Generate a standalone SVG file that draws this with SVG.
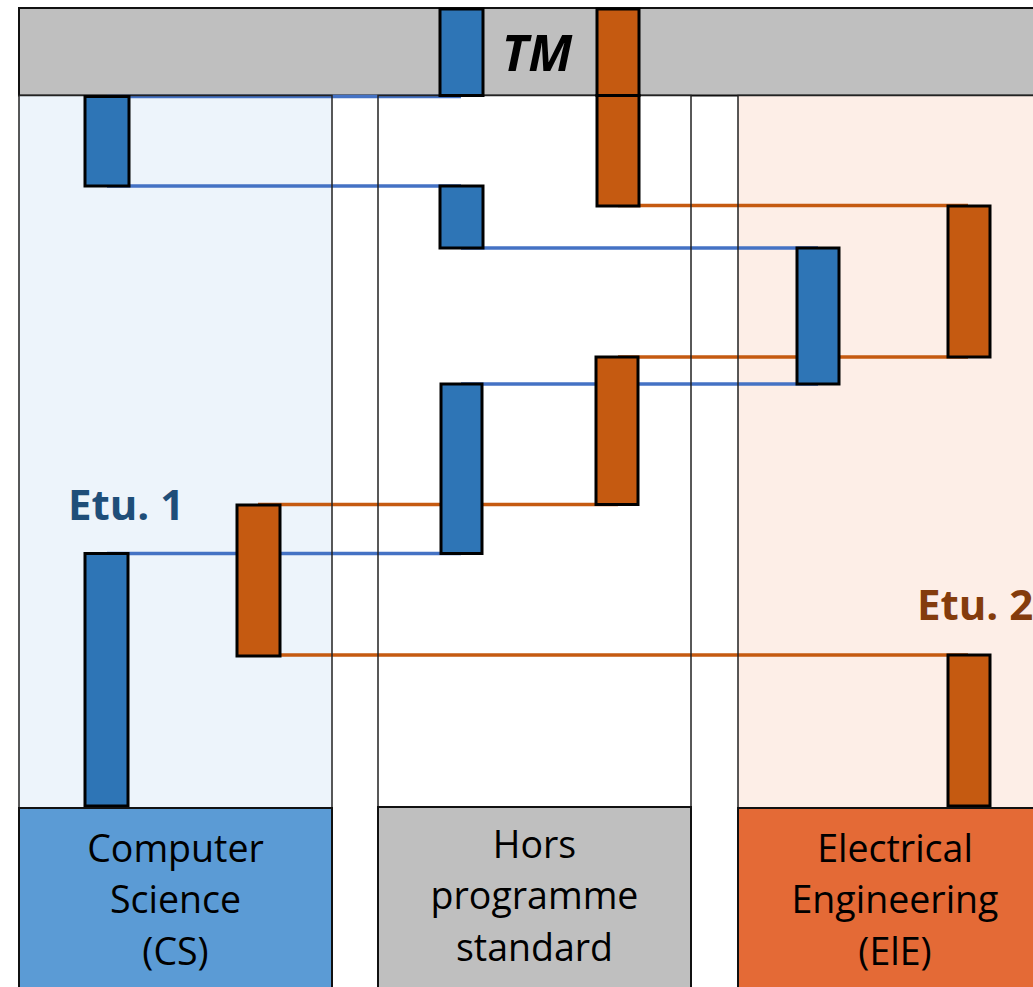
<svg xmlns="http://www.w3.org/2000/svg" width="1033" height="987" viewBox="0 0 1033 987">
<style>
.col{stroke:none}
.colb{fill:none;stroke:#222;stroke-width:1.5}
.box{stroke:#111;stroke-width:2}
.bb{fill:#2E75B6;stroke:#000;stroke-width:3}
.ob{fill:#C55A11;stroke:#000;stroke-width:3}
.lb{stroke:#4472C4;stroke-width:3.5;fill:none}
.lo{stroke:#C55A11;stroke-width:3.5;fill:none}
.lbl{font-family:"Open Sans","Liberation Sans",sans-serif;font-size:37.5px;fill:#000;text-anchor:middle}
.etu{font-family:"Open Sans","Liberation Sans",sans-serif;font-size:42px;font-weight:bold}
</style>
<rect x="0" y="0" width="1033" height="987" fill="#fff"/>
<g id="band">
<rect x="19" y="8" width="1030" height="87.5" fill="#BFBFBF" stroke="#111" stroke-width="2"/>
<text x="537" y="71" font-family="'Open Sans','Liberation Sans',sans-serif" font-size="50" font-weight="bold" font-style="italic" text-anchor="middle" fill="#000">TM</text>
</g>
<g id="columns">
<rect class="col" x="19" y="95.5" width="313" height="712.5" fill="#EDF4FB"/>
<rect class="col" x="378" y="95.5" width="313" height="712.5" fill="#FFFFFF"/>
<rect class="col" x="738" y="95.5" width="320" height="712.5" fill="#FDEEE7"/>
</g>
<g id="connectors">
<line class="lb" x1="107" y1="96.5" x2="461" y2="96.5"/>
<line class="lb" x1="107" y1="186" x2="461" y2="186"/>
<line class="lb" x1="461" y1="248" x2="818" y2="248"/>
<line class="lb" x1="461" y1="384" x2="818" y2="384"/>
<line class="lb" x1="107" y1="553.5" x2="461" y2="553.5"/>
<line class="lo" x1="618" y1="205.5" x2="968" y2="205.5"/>
<line class="lo" x1="618" y1="357" x2="968" y2="357"/>
<line class="lo" x1="258" y1="504.5" x2="618" y2="504.5"/>
<line class="lo" x1="258" y1="655" x2="968" y2="655"/>
</g>
<g id="column-borders">
<rect class="colb" x="19" y="95.5" width="313" height="712.5"/>
<rect class="colb" x="378" y="95.5" width="313" height="712.5"/>
<rect class="colb" x="738" y="95.5" width="320" height="712.5"/>
</g>
<g id="bars">
<rect class="bb" x="440" y="9" width="43" height="86.5"/>
<rect class="ob" x="597" y="9" width="42" height="86.5"/>
<rect class="ob" x="597" y="95.5" width="42" height="110.5"/>
<rect class="bb" x="85" y="96.5" width="44" height="89.5"/>
<rect class="bb" x="440" y="186" width="43" height="62"/>
<rect class="bb" x="797" y="248" width="42" height="136"/>
<rect class="ob" x="948" y="206" width="42" height="151"/>
<rect class="ob" x="596" y="357" width="42" height="147.5"/>
<rect class="bb" x="441" y="384" width="41" height="169.5"/>
<rect class="ob" x="237" y="505" width="43" height="151"/>
<rect class="bb" x="85" y="553.5" width="43" height="252.5"/>
<rect class="ob" x="948" y="655" width="42" height="151"/>
</g>
<g id="etu1"><text class="etu" x="68" y="520" fill="#1F4E79">Etu. 1</text></g>
<g id="etu2"><text class="etu" x="917" y="620" fill="#843C0C">Etu. 2</text></g>
<g id="cs">
<rect class="box" x="19" y="808" width="313" height="190" fill="#5B9BD5"/>
<text class="lbl" x="175.5" y="862">Computer</text>
<text class="lbl" x="175.5" y="913">Science</text>
<text class="lbl" x="175.5" y="965">(CS)</text>
</g>
<g id="hors">
<rect class="box" x="378" y="807" width="313" height="190" fill="#BFBFBF"/>
<text class="lbl" x="534.5" y="858">Hors</text>
<text class="lbl" x="534.5" y="909">programme</text>
<text class="lbl" x="534.5" y="961">standard</text>
</g>
<g id="eie">
<rect class="box" x="738" y="808" width="320" height="190" fill="#E46A36"/>
<text class="lbl" x="895" y="862">Electrical</text>
<text class="lbl" x="895" y="913">Engineering</text>
<text class="lbl" x="895" y="965">(ElE)</text>
</g>
</svg>
